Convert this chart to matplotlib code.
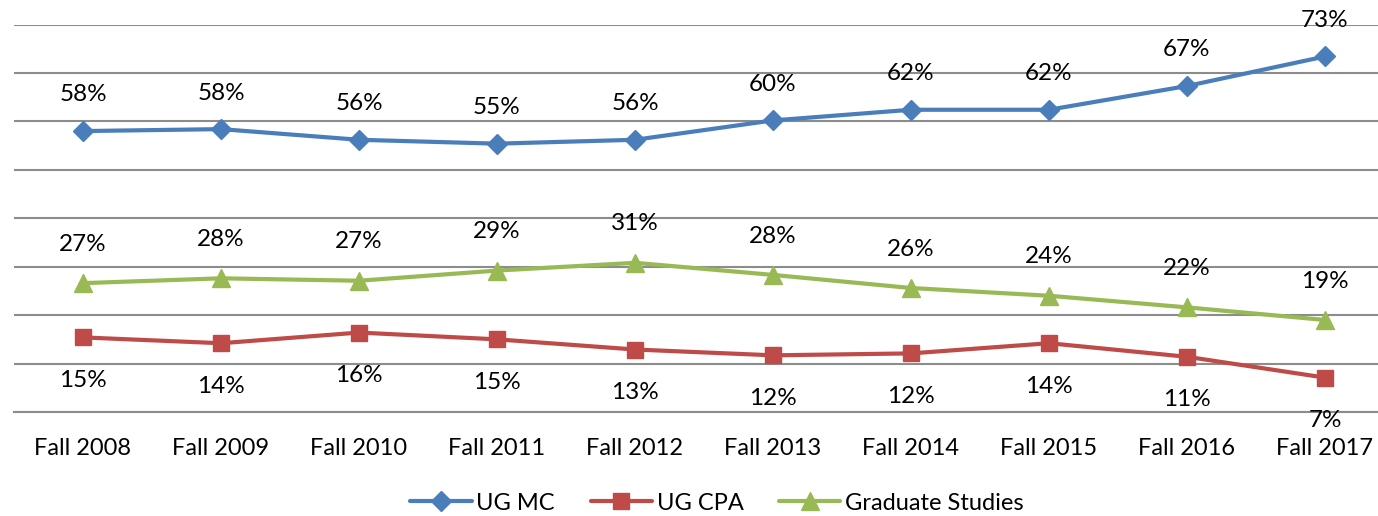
import matplotlib
matplotlib.use("Agg")
import matplotlib.pyplot as plt
from matplotlib.ticker import MultipleLocator

categories = ["Fall 2008", "Fall 2009", "Fall 2010", "Fall 2011", "Fall 2012",
              "Fall 2013", "Fall 2014", "Fall 2015", "Fall 2016", "Fall 2017"]
ug_mc = [58.0, 58.4, 56.2, 55.4, 56.2, 60.2, 62.4, 62.4, 67.3, 73.4]
ug_cpa = [15.4, 14.2, 16.4, 15.0, 12.9, 11.7, 12.1, 14.2, 11.4, 7.1]
grad = [26.6, 27.6, 27.1, 29.2, 30.8, 28.3, 25.6, 24.0, 21.6, 19.0]
series_names = ["UG MC", "UG CPA", "Graduate Studies"]

plt.rcParams['font.family'] = ['Lato', 'DejaVu Sans']
W, H = 1378, 516
fig = plt.figure(figsize=(W / 100, H / 100), dpi=100)
left = 14 / W
bottom = (H - 412) / H
ax = fig.add_axes([left, bottom, 1380 / W, (412 - 24.5) / H])

x = list(range(len(categories)))
colors = ["#4A7EBB", "#BE4B48", "#98B954"]
markers = ["D", "s", "^"]
msizes = [10.5, 11, 12.5]
data = [ug_mc, ug_cpa, grad]
offsets = [26, -31, 28]

for vals, c, m, ms, name, off in zip(data, colors, markers, msizes, series_names, offsets):
    ax.plot(x, vals, color=c, lw=3, marker=m, markersize=ms, label=name, zorder=3,
            solid_capstyle='round')
    for xi, v in zip(x, vals):
        ax.annotate(f"{round(v):d}%", (xi, v), xytext=(0, off), textcoords="offset points",
                    ha="center", va="center", fontsize=17.5, color="black")

ax.set_xlim(-0.5, len(categories) - 0.5)
ax.set_ylim(0, 80)
ax.yaxis.set_major_locator(MultipleLocator(10))
ax.grid(axis="y", color="#8C8C8C", lw=1.5)
ax.set_axisbelow(True)
ax.set_yticklabels([])
ax.tick_params(axis="y", length=0)
ax.set_xticks(x)
ax.set_xticklabels(categories, fontsize=17)
ax.tick_params(axis="x", length=0, pad=19)
for s in ["top", "right", "left"]:
    ax.spines[s].set_visible(False)
ax.spines["bottom"].set_color("#8C8C8C")
ax.spines["bottom"].set_linewidth(1.5)

fig.legend(loc="center", bbox_to_anchor=(717 / W, 1 - 503 / H), ncol=3, frameon=False,
           fontsize=17, handlelength=2.6, columnspacing=1.5, handletextpad=0.2)

fig.savefig("out.png", dpi=100)
